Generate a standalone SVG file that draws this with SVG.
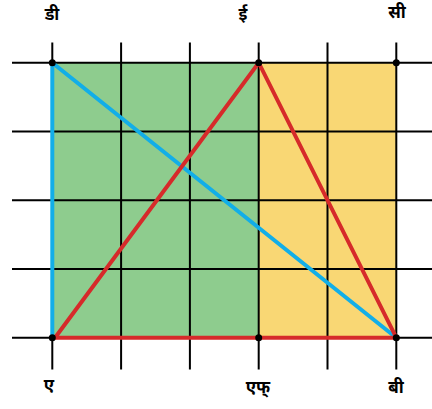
<svg xmlns="http://www.w3.org/2000/svg" width="432" height="409" viewBox="0 0 432 409">
<style>
.grid{stroke:#000;stroke-width:2;fill:none}
.dot{fill:#000}
.lbl{font-family:"Noto Sans","Noto Sans Devanagari","DejaVu Sans",sans-serif;font-size:17px;font-weight:bold;fill:#000;text-anchor:middle}
</style>
<rect width="432" height="409" fill="#fff"/>
<g id="regions">
<rect x="52.3" y="62.7" width="206.4" height="275" fill="#8ecc8e"/>
<rect x="258.7" y="62.7" width="137.6" height="275" fill="#f9d774"/>
</g>
<g id="grid" class="grid">
<path d="M12 62.7H432M12 131.4H432M12 200.2H432M12 268.9H432M12 337.7H432"/>
<path d="M52.3 42.5V369.5M121.1 42.5V369.5M189.9 42.5V369.5M258.7 42.5V369.5M327.5 42.5V369.5M396.3 42.5V369.5"/>
</g>
<g id="connectors">
<path d="M52.3 62.7V337.7M52.3 62.7L396.3 337.7" stroke="#12aee8" stroke-width="4" fill="none"/>
<path d="M55 337.7L258.7 62.7L396.3 337.7Z" stroke="#d62a2a" stroke-width="4" fill="none" stroke-linejoin="miter"/>
</g>
<g id="D"><circle class="dot" cx="52.3" cy="62.7" r="3.5"/><text class="lbl" x="52" y="20">डी</text></g>
<g id="E"><circle class="dot" cx="258.7" cy="62.7" r="3.5"/><text class="lbl" x="243" y="20">ई</text></g>
<g id="C"><circle class="dot" cx="396.3" cy="62.7" r="3.5"/><text class="lbl" x="397" y="18">सी</text></g>
<g id="A"><circle class="dot" cx="52.3" cy="337.7" r="3.5"/><text class="lbl" x="49" y="391">ए</text></g>
<g id="F"><circle class="dot" cx="258.7" cy="337.7" r="3.5"/><text class="lbl" x="258" y="393">एफ्</text></g>
<g id="B"><circle class="dot" cx="396.3" cy="337.7" r="3.5"/><text class="lbl" x="396" y="393">बी</text></g>
</svg>
